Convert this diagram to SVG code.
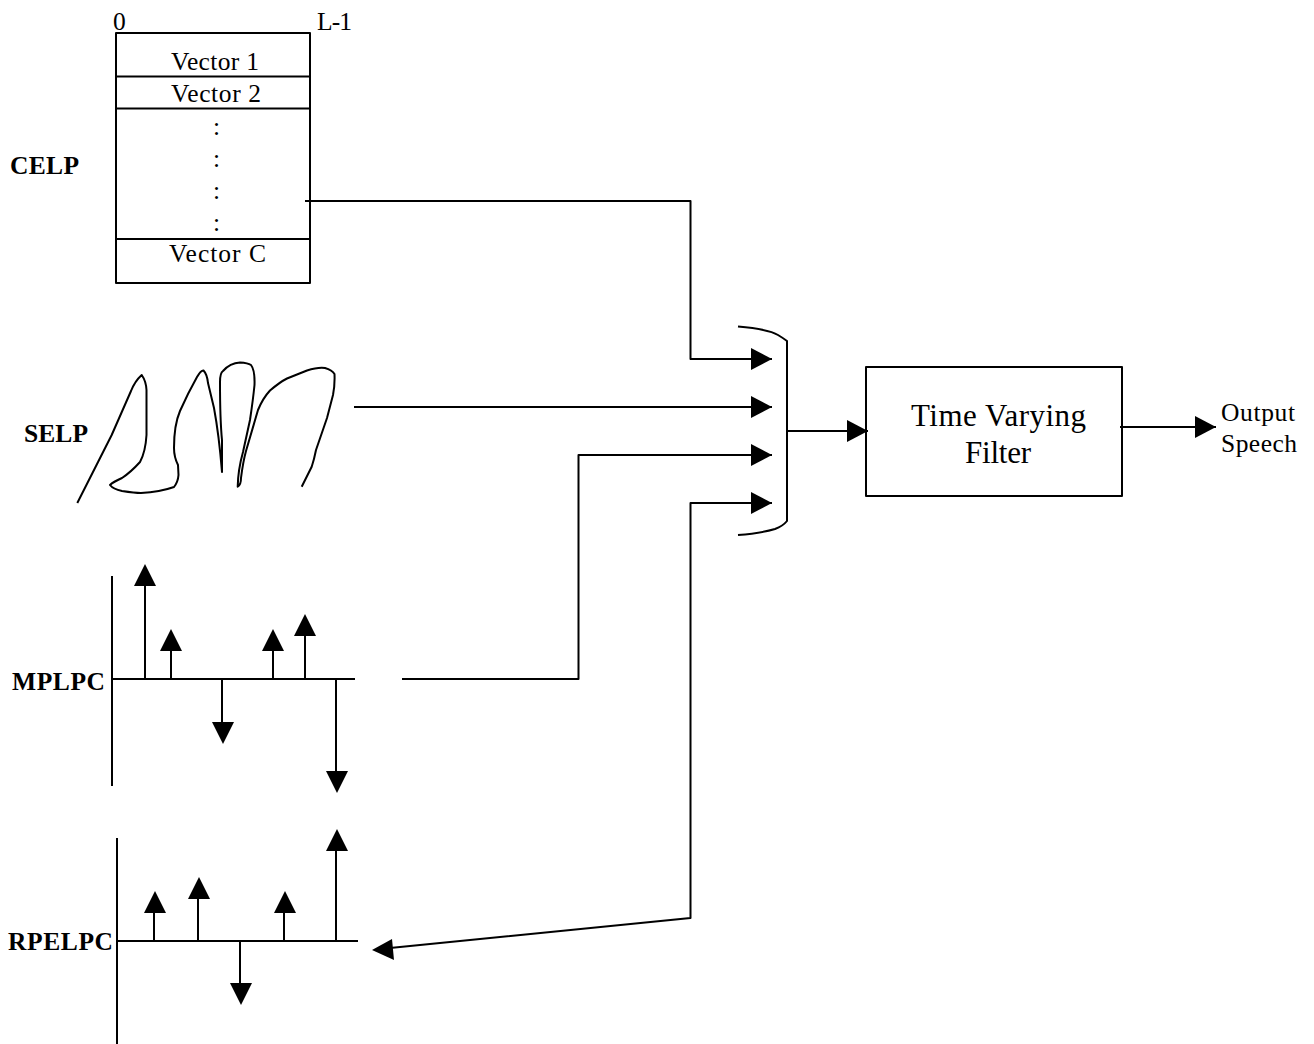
<svg xmlns="http://www.w3.org/2000/svg" width="1314" height="1044" viewBox="0 0 1314 1044">
<defs>
<style>
text{font-family:"Liberation Serif","Times New Roman",serif;fill:#000;font-size:25.500px}
.b{font-weight:bold}
.big{font-size:31px}
.l{fill:none;stroke:#000;stroke-width:2;stroke-linejoin:round}
.h{fill:#000;stroke:none}
</style>
<marker id="a" markerUnits="userSpaceOnUse" markerWidth="22" markerHeight="22" refX="21" refY="11" orient="auto"><path d="M0 0L21 11L0 22Z" fill="#000"/></marker>
</defs>
<rect width="1314" height="1044" fill="#fff"/>
<g id="labels">
<text class="b" x="10" y="174" textLength="69">CELP</text>
<text class="b" x="24" y="442" textLength="64">SELP</text>
<text class="b" x="12" y="690" textLength="93">MPLPC</text>
<text class="b" x="8" y="950" textLength="105">RPELPC</text>
</g>
<g id="codebook">
<rect class="l" x="116" y="33" width="194" height="250"/>
<path class="l" d="M116 76.500H310M116 108.500H310M116 239H310"/>
<text x="113" y="30">0</text>
<text x="317" y="30" textLength="35">L-1</text>
<text x="171" y="70" textLength="88">Vector 1</text>
<text x="171" y="102" textLength="90">Vector 2</text>
<text x="169" y="262" textLength="97">Vector C</text>
<text x="213" y="135">:</text>
<text x="213" y="167">:</text>
<text x="213" y="199">:</text>
<text x="213" y="231">:</text>
</g>
<g id="selp-waveform">
<path class="l" d="M77.300 503L111.700 435L131 391Q135 381 141.700 375Q146 381 146.500 390V435Q145.500 452 140 462Q131 472 122 478Q113 482 110 485Q113 489 122 491Q135 493 141 493Q160 492 174 487Q178 482 178.500 475L178 465Q174 457 174 448Q174 425 180 411Q188 393 197 377Q201 370 203.500 370.500Q207 374 208 383L214 408Q219 435 222 472V440Q220 420 220 382Q220 373 223 371Q230 363 240 362.500Q248 363 251 365Q255 370 254.500 385Q253 400 250 420L243 452Q238 470 237.700 486.700Q241 485 241 478Q243 462 246 451L258 410Q263 398 270 390.500Q280 382 287 378.500L307 370.500Q318 367 325 368Q332 370 334.500 374Q335 385 333 395L327 418L316 450Q314 460 311.700 466.700L301.700 486.700"/>
</g>
<g id="mplpc-pulses">
<path class="l" d="M112 576V786M112 679H355"/>
<path class="l" d="M145 679V585M171 679V649M273 679V649M305 679V634M222 679V723M336 679V771"/>
<path class="h" d="M134 586L145 564L156 586ZM160 651L171 629L182 651ZM262 651L273 629L284 651ZM294 636L305 614L316 636ZM212 722L223 744L234 722ZM326 771L337 793L348 771Z"/>
</g>
<g id="rpelpc-pulses">
<path class="l" d="M117 838V1044M117 941H358"/>
<path class="l" d="M154 941V911M198 941V897M284 941V911M336 941V850M240 941V984"/>
<path class="h" d="M144 913L155 891L166 913ZM188 899L199 877L210 899ZM274 913L285 891L296 913ZM326 851L337 829L348 851ZM230 983L241 1005L252 983Z"/>
</g>
<g id="mux">
<path class="l" d="M738 326.500C755 328 770 330 778 335Q783 338 787 341V521Q783 526 775 529C765 532 752 534 738 535"/>
</g>
<g id="filter">
<rect class="l" x="866" y="367" width="256" height="129"/>
<text class="big" x="911" y="426" textLength="175">Time Varying</text>
<text class="big" x="965" y="463" textLength="66">Filter</text>
</g>
<g id="output">
<text x="1221" y="421" textLength="74">Output</text>
<text x="1221" y="452" textLength="76">Speech</text>
</g>
<g id="connectors">
<path class="l" marker-end="url(#a)" d="M305 201H690.500V359H772"/>
<path class="l" marker-end="url(#a)" d="M354 407H772"/>
<path class="l" marker-end="url(#a)" d="M402 679H578.500V455H772"/>
<path class="l" d="M380 949L690.500 918V503H772" marker-end="url(#a)"/>
<path class="l" marker-end="url(#a)" d="M787 431H868"/>
<path class="l" marker-end="url(#a)" d="M1120 427H1216"/>
<path class="h" d="M372 950L392 939L394 960Z"/>
</g>
</svg>
